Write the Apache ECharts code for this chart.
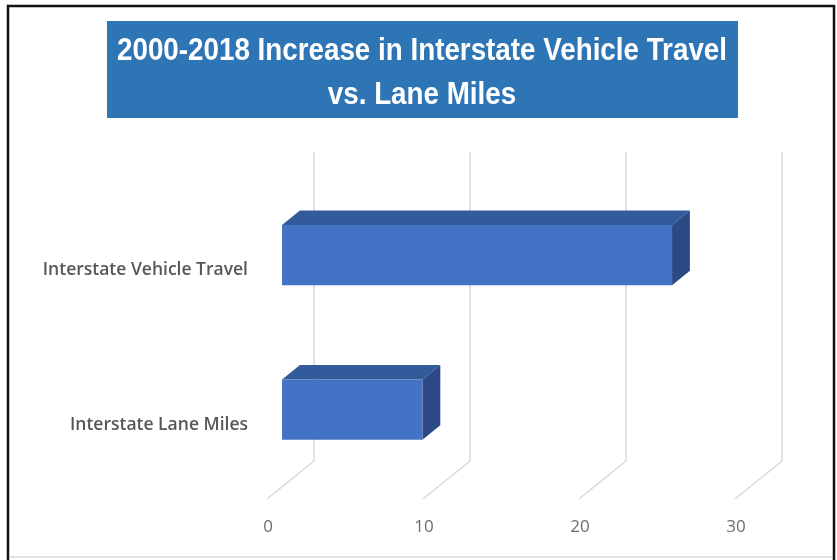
<!DOCTYPE html>
<html>
<head>
<meta charset="utf-8">
<style>
  html, body { margin: 0; padding: 0; background: #ffffff; }
  #chart { width: 837px; height: 560px; }
</style>
<script src="https://cdn.jsdelivr.net/npm/echarts@6/dist/echarts.min.js"></script>
</head>
<body>
<div id="chart"></div>
<script>
// Percent increase, 2000-2018
const categories = ['Interstate Vehicle Travel', 'Interstate Lane Miles'];
const values = [25, 9];
const xTicks = [0, 10, 20, 30];
const titleLines = ['2000-2018 Increase in Interstate Vehicle Travel', 'vs. Lane Miles'];

// Oblique 3D look: the grid is the back wall, the floor runs toward the viewer
const FLOOR = [-47, 38];        // back wall -> front edge of the floor
const BAR_FRONT = 0.68;         // depth fraction of the bar's front face
const BAR_BACK = 0.30;          // depth fraction of the bar's back face
const BAR_RATIO = 0.39;         // bar thickness vs. category band

const LABEL_FONT = '"Open Sans", "Liberation Sans", Arial, sans-serif';
const TITLE_FONT = 'bold 31px "Liberation Sans", Arial, sans-serif';
const TITLE_WIDTH = 610;        // first title line is squeezed to this width

// Condense the title horizontally so it reads like a narrow face
const measureCtx = document.createElement('canvas').getContext('2d');
measureCtx.font = TITLE_FONT;
const titleScale = TITLE_WIDTH / measureCtx.measureText(titleLines[0]).width;

const chart = echarts.init(document.getElementById('chart'), null, { renderer: 'canvas' });

function renderBar(params, api) {
  const v = api.value(0);
  const idx = api.value(1);
  const c0 = api.coord([0, idx]);
  const c1 = api.coord([v, idx]);
  const band = api.size([0, 1])[1];
  const h = band * BAR_RATIO;
  const fx = FLOOR[0] * BAR_FRONT, fy = FLOOR[1] * BAR_FRONT;
  const dx = FLOOR[0] * (BAR_BACK - BAR_FRONT), dy = FLOOR[1] * (BAR_BACK - BAR_FRONT);
  const x0 = c0[0] + fx, x1 = c1[0] + fx;
  const yT = c0[1] + fy - h / 2, yB = c0[1] + fy + h / 2;
  return {
    type: 'group',
    children: [
      { type: 'polygon', shape: { points: [[x0, yT], [x1, yT], [x1 + dx, yT + dy], [x0 + dx, yT + dy]] },
        style: { fill: '#335a9b' } },
      { type: 'polygon', shape: { points: [[x1, yT], [x1 + dx, yT + dy], [x1 + dx, yB + dy], [x1, yB]] },
        style: { fill: '#2b4a85' } },
      { type: 'rect', shape: { x: x0, y: yT, width: x1 - x0, height: h },
        style: { fill: '#4472c4' } }
    ]
  };
}

function renderFloor(params, api) {
  const v = api.value(0);
  const rect = params.coordSys;
  const bottom = rect.y + rect.height;
  const x = api.coord([v, 0])[0];
  return {
    type: 'group',
    children: [
      { type: 'line', shape: { x1: x, y1: bottom, x2: x + FLOOR[0], y2: bottom + FLOOR[1] },
        style: { stroke: '#d9d9d9', lineWidth: 1.5 } },
      { type: 'text', x: x + FLOOR[0] + 1, y: bottom + 66,
        style: { text: String(v), fill: '#6e6e6e', font: '17px ' + LABEL_FONT, align: 'center', verticalAlign: 'middle' } }
    ]
  };
}

function renderCategory(params, api) {
  const idx = api.value(1);
  const c = api.coord([0, idx]);
  return {
    type: 'text', x: c[0] + FLOOR[0] - 19, y: c[1] + FLOOR[1] + 3,
    style: { text: categories[idx], fill: '#575757', font: '600 17.5px ' + LABEL_FONT, align: 'right', verticalAlign: 'middle' }
  };
}

chart.setOption({
  animation: false,
  backgroundColor: '#ffffff',
  grid: { left: 314, top: 152, width: 468, height: 309 },
  xAxis: {
    type: 'value', min: 0, max: 30, interval: 10,
    axisLine: { show: false }, axisTick: { show: false }, axisLabel: { show: false },
    splitLine: { show: true, lineStyle: { color: '#d9d9d9', width: 1.5 } }
  },
  yAxis: {
    type: 'category', data: categories, inverse: true,
    axisLine: { show: false }, axisTick: { show: false }, axisLabel: { show: false },
    splitLine: { show: false }
  },
  graphic: [
    { type: 'rect', shape: { x: 8, y: 6, width: 826, height: 560 },
      style: { fill: 'none', stroke: '#111111', lineWidth: 2.5 }, z: 10 },
    { type: 'line', shape: { x1: 10, y1: 557, x2: 833, y2: 557 },
      style: { stroke: '#d9d9d9', lineWidth: 1.5 } },
    { type: 'rect', shape: { x: 107, y: 21, width: 631, height: 97 },
      style: { fill: '#2e75b6' } },
    { type: 'text', x: 422, y: 51, scaleX: titleScale,
      style: { text: titleLines[0], fill: '#ffffff', font: TITLE_FONT, align: 'center', verticalAlign: 'middle' } },
    { type: 'text', x: 422, y: 95, scaleX: titleScale,
      style: { text: titleLines[1], fill: '#ffffff', font: TITLE_FONT, align: 'center', verticalAlign: 'middle' } }
  ],
  series: [
    { type: 'custom', name: 'floor', renderItem: renderFloor, data: xTicks.map(v => [v]), silent: true },
    { type: 'custom', name: 'categories', renderItem: renderCategory, data: categories.map((c, i) => [0, i]), silent: true },
    { type: 'custom', name: 'Increase', renderItem: renderBar, data: values.map((v, i) => [v, i]),
      encode: { x: 0, y: 1 } }
  ]
});
</script>
</body>
</html>
